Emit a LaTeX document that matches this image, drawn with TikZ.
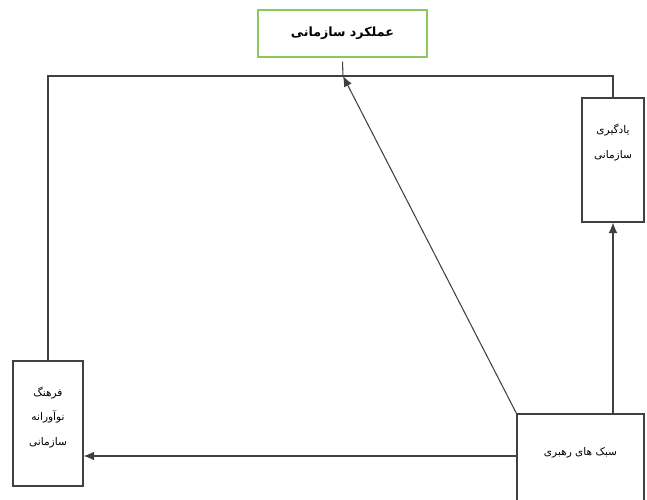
\documentclass[tikz,border=0pt]{standalone}
\usepackage{fontspec}
\newfontfamily\arabicfont[Script=Arabic]{DejaVu Sans}
\TeXXeTstate=1
\usepackage{tikz}
\usetikzlibrary{arrows.meta}
\usetikzlibrary{positioning}
\definecolor{boxgreen}{RGB}{140,200,90}
\tikzstyle{block} = [rectangle, draw=black!75, line width=0.6pt, fill=white]
\tikzstyle{headbox} = [rectangle, draw=boxgreen, line width=0.6pt, fill=white, font=\arabicfont\bfseries\fontsize{7.2}{9}\selectfont]
\tikzstyle{boxtext} = [align=center, inner sep=0pt, font=\arabicfont\fontsize{6}{14}\selectfont]
\tikzstyle{link} = [line width=0.6pt, draw=black!75]
\tikzstyle{arrow} = [->, line width=0.6pt, draw=black!75]

\begin{document}
\begin{tikzpicture}[x=0.02cm, y=-0.02cm, >={Latex[length=6pt,width=5pt]}]
  \useasboundingbox (0,0) rectangle (647,500);
  \clip (0,0) rectangle (647,500);

  % We start by placing the blocks
  \node (perf) [headbox, minimum width=3.38cm, minimum height=0.94cm] at (342.5,33.5) {\beginR عملکرد سازمانی\endR};
  \node (learn) [block, minimum width=1.24cm, minimum height=2.48cm] at (613,160) {};
  \node (learn text) [boxtext, below=0.9cm of learn.north, anchor=center] {\beginR یادگیری\endR\\\beginR سازمانی\endR};
  \node (culture) [block, minimum width=1.4cm, minimum height=2.5cm] at (48,423.5) {};
  \node (culture text) [boxtext, below=1.14cm of culture.north, anchor=center] {\beginR فرهنگ\endR\\\beginR نوآورانه\endR\\\beginR سازمانی\endR};
  \node (style) [block, minimum width=2.54cm, minimum height=2.12cm] at (580.5,467) {};
  \node (style text) [boxtext, below=0.78cm of style.north, anchor=center] {\beginR سبک های رهبری\endR};
  \coordinate (bar) at (343,76);

  % Draw the connections between blocks
  \draw [link] ([yshift=-0.08cm]perf.south) -- (bar);
  \draw [link] (culture.north) |- (bar) -| (learn.north);
  \draw [arrow] (style.north west) -- (bar);
  \draw [arrow] (learn.south |- style.north) -- (learn.south);
  \draw [arrow] ([yshift=0.22cm]style.west) -- ([yshift=0.22cm]style.west -| culture.east);

\end{tikzpicture}
\end{document}
